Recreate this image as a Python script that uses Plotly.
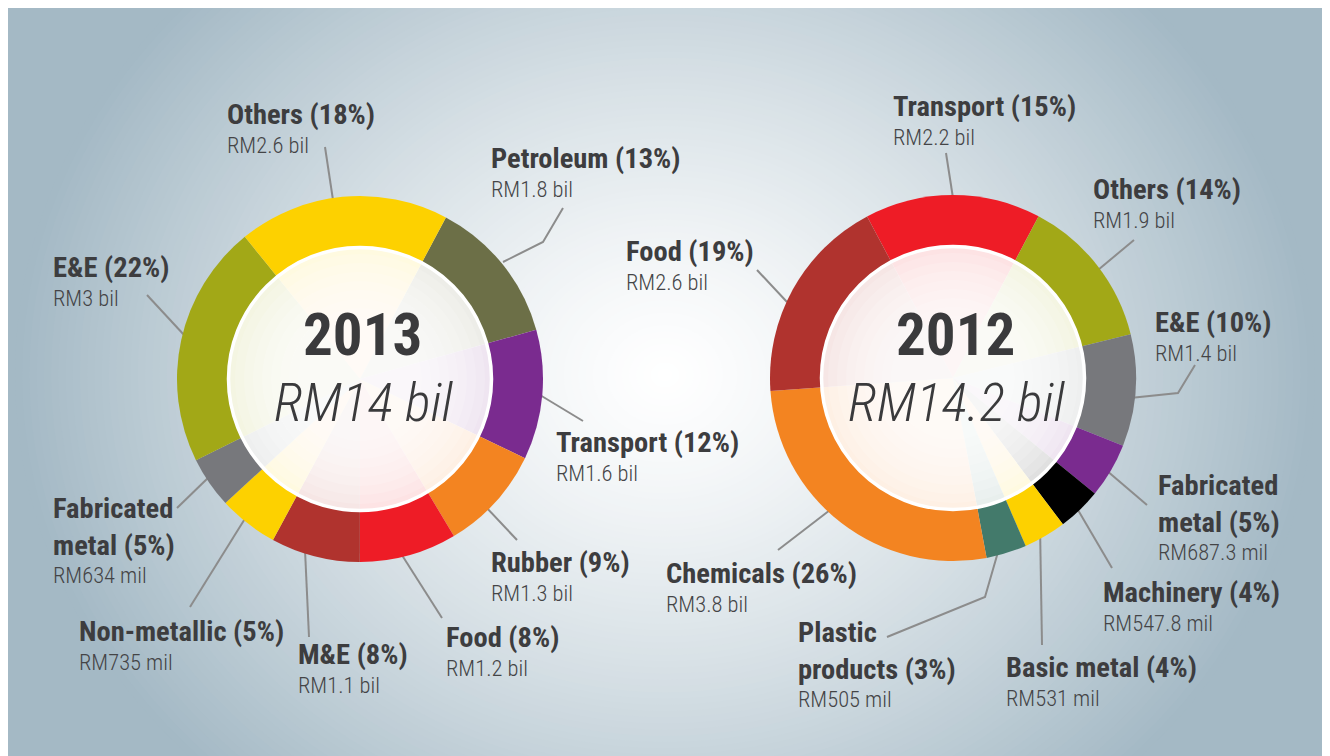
import plotly.graph_objects as go

W, H = 1330, 756

# ---------------- data ----------------
sectors_2013 = ["Petroleum", "Transport", "Rubber", "Food", "M&E",
                "Non-metallic", "Fabricated metal", "E&E", "Others"]
values_2013 = [1.8, 1.6, 1.3, 1.2, 1.1, 0.735, 0.634, 3.0, 2.6]          # RM bil
pct_2013 = [13, 12, 9, 8, 8, 5, 5, 22, 18]
amounts_2013 = ["RM1.8 bil", "RM1.6 bil", "RM1.3 bil", "RM1.2 bil", "RM1.1 bil",
                "RM735 mil", "RM634 mil", "RM3 bil", "RM2.6 bil"]
year_2013 = "2013"
total_2013 = "RM14 bil"

sectors_2012 = ["Transport", "Others", "E&E", "Fabricated metal", "Machinery",
                "Basic metal", "Plastic products", "Chemicals", "Food"]
values_2012 = [2.2, 1.9, 1.4, 0.6873, 0.5478, 0.531, 0.505, 3.8, 2.6]   # RM bil
pct_2012 = [15, 14, 10, 5, 4, 4, 3, 26, 19]
amounts_2012 = ["RM2.2 bil", "RM1.9 bil", "RM1.4 bil", "RM687.3 mil", "RM547.8 mil",
                "RM531 mil", "RM505 mil", "RM3.8 bil", "RM2.6 bil"]
year_2012 = "2012"
total_2012 = "RM14.2 bil"

# ---------------- style ----------------
YELLOW, OLIVE, DKOLIVE = "#fdd100", "#a2a817", "#6c6f47"
PURPLE, ORANGE, RED, DKRED = "#7a2b8f", "#f38421", "#ee1c26", "#b0332e"
GREY, BLACK, TEAL = "#77787c", "#000000", "#437a6b"
colors_2013 = [DKOLIVE, PURPLE, ORANGE, RED, DKRED, YELLOW, GREY, OLIVE, YELLOW]
colors_2012 = [RED, OLIVE, GREY, PURPLE, BLACK, YELLOW, TEAL, ORANGE, DKRED]

FONT = "Roboto Condensed, Liberation Sans Narrow, Roboto, sans-serif"
TXT_BOLD = "#3d3d3f"
TXT_REG = "#444446"
LEADER = "#8c8c8c"
BOLD_SIZE, REG_SIZE = 28.5, 22.5
YEAR_SIZE, TOTAL_SIZE = 59, 54
BOLD_GAP, VAL_GAP = 36, 33
ASC = 0.22  # box-top to cap-top, in em

wrap = {"Fabricated metal": "Fabricated<br>metal", "Plastic products": "Plastic<br>products"}

# all positions below are in screen pixels of the reference picture
OX, OY = 8, 8  # page margin in front of the figure
centers = {"2013": (360, 379), "2012": (953, 378)}
R_OUT = 183
rotation = {"2013": 28, "2012": -28}

pos_2013 = {"Petroleum": (490, 147), "Transport": (555, 431), "Rubber": (490, 551),
            "Food": (445, 626), "M&E": (297, 643), "Non-metallic": (78, 620),
            "Fabricated metal": (52, 497), "E&E": (52, 256), "Others": (226, 103)}
pos_2012 = {"Transport": (892, 95), "Others": (1092, 178), "E&E": (1154, 311),
            "Fabricated metal": (1157, 474), "Machinery": (1102, 581),
            "Basic metal": (1005, 656), "Plastic products": (797, 621),
            "Chemicals": (665, 562), "Food": (625, 240)}

leaders_2013 = {"Petroleum": [(563, 208), (543, 242), (503, 262)],
                "Transport": [(583, 421), (535, 392)],
                "Rubber": [(517, 540), (485, 506)],
                "Food": [(442, 618), (400, 552)],
                "M&E": [(309, 637), (305, 550)],
                "Non-metallic": [(190, 607), (246, 517)],
                "Fabricated metal": [(177, 508), (210, 476)],
                "E&E": [(147, 295), (185, 336)],
                "Others": [(325, 147), (333, 200)]}
leaders_2012 = {"Transport": [(946, 153), (953, 198)],
                "Others": [(1134, 240), (1098, 270)],
                "E&E": [(1195, 365), (1178, 393), (1130, 398)],
                "Fabricated metal": [(1147, 505), (1106, 470)],
                "Machinery": [(1112, 568), (1078, 510)],
                "Basic metal": [(1042, 645), (1040, 525)],
                "Plastic products": [(887, 637), (985, 597), (998, 552)],
                "Chemicals": [(778, 550), (830, 510)],
                "Food": [(757, 270), (787, 302)]}


def fx(x):
    return (x - OX) / W


def fy(y):
    return 1 - (y - OY) / H


fig = go.Figure()
shapes = []
annotations = []

# ----- background: radial gradient built from concentric ellipses -----
EDGE = (164, 185, 197)
shapes.append(dict(type="rect", xref="paper", yref="paper", x0=0, x1=1, y0=0, y1=1,
                   fillcolor="rgb(%d,%d,%d)" % EDGE, line=dict(width=0), layer="below"))
gcx, gcy, ga, gb = 665, 375, 650, 560
N = 90
for i in range(N):
    t = 1.0 - i / N
    blue = min(1.0, t ** 1.3)
    c = tuple(int(round(255 + (e - 255) * blue)) for e in EDGE)
    shapes.append(dict(type="circle", xref="paper", yref="paper",
                       x0=fx(gcx - ga * t), x1=fx(gcx + ga * t),
                       y0=fy(gcy + gb * t), y1=fy(gcy - gb * t),
                       fillcolor="rgb(%d,%d,%d)" % c, line=dict(width=0), layer="below"))

# glassy centre: base veil + soft layers that whiten towards the middle
veil = [(131.5, 0.88)] + [(125 - 9 * k, 0.16) for k in range(8)]


def add_donut(year, sectors, values, pcts, amounts, colors, pos, leaders, total):
    cx, cy = centers[year]
    fig.add_trace(go.Pie(
        labels=sectors, values=values, sort=False, direction="clockwise",
        rotation=rotation[year], hole=0, textinfo="none", hoverinfo="label+value",
        marker=dict(colors=colors, line=dict(width=0)), showlegend=False,
        domain=dict(x=[fx(cx - R_OUT), fx(cx + R_OUT)], y=[fy(cy + R_OUT), fy(cy - R_OUT)]),
    ))
    for j, (r, alpha) in enumerate(veil):
        shapes.append(dict(type="circle", xref="paper", yref="paper",
                           x0=fx(cx - r), x1=fx(cx + r), y0=fy(cy + r), y1=fy(cy - r),
                           fillcolor="rgba(255,255,255,%.2f)" % alpha,
                           line=dict(width=3.5, color="white") if j == 0 else dict(width=0),
                           layer="above"))
    # centre texts
    annotations.append(dict(xref="paper", yref="paper", x=fx(cx + 2),
                            y=fy(312 - ASC * YEAR_SIZE - 1),
                            xanchor="center", yanchor="top", showarrow=False,
                            text="<b>%s</b>" % year,
                            font=dict(family=FONT, size=YEAR_SIZE, color="#3a3a3c")))
    annotations.append(dict(xref="paper", yref="paper", x=fx(cx + 3),
                            y=fy(382 - ASC * TOTAL_SIZE - 1),
                            xanchor="center", yanchor="top", showarrow=False,
                            text="<i>%s</i>" % total,
                            font=dict(family=FONT, size=TOTAL_SIZE, color="#3a3a3c", weight=300)))
    # labels and leaders
    for s, p, a in zip(sectors, pcts, amounts):
        x, top = pos[s]
        name = wrap.get(s, s)
        nlines = name.count("<br>") + 1
        annotations.append(dict(xref="paper", yref="paper", x=fx(x - 1),
                                y=fy(top - ASC * BOLD_SIZE - 1),
                                xanchor="left", yanchor="top", align="left", showarrow=False,
                                text="<b>%s (%d%%)</b>" % (name.replace("<br>", "</b><br><b>"), p),
                                font=dict(family=FONT, size=BOLD_SIZE, color=TXT_BOLD)))
        vtop = top + (nlines - 1) * BOLD_GAP + VAL_GAP
        annotations.append(dict(xref="paper", yref="paper", x=fx(x - 1),
                                y=fy(vtop - ASC * REG_SIZE - 1),
                                xanchor="left", yanchor="top", align="left", showarrow=False,
                                text=a, font=dict(family=FONT, size=REG_SIZE, color=TXT_REG,
                                                  weight=300)))
        pts = leaders[s]
        path = "M %f %f " % (fx(pts[0][0]), fy(pts[0][1])) + " ".join(
            "L %f %f" % (fx(px), fy(py)) for px, py in pts[1:])
        shapes.append(dict(type="path", xref="paper", yref="paper", path=path,
                           line=dict(color=LEADER, width=2), layer="below"))


add_donut("2013", sectors_2013, values_2013, pct_2013, amounts_2013, colors_2013,
          pos_2013, leaders_2013, total_2013)
add_donut("2012", sectors_2012, values_2012, pct_2012, amounts_2012, colors_2012,
          pos_2012, leaders_2012, total_2012)

fig.update_layout(
    width=W, height=H, margin=dict(l=0, r=0, t=0, b=0),
    paper_bgcolor="white", plot_bgcolor="white",
    shapes=shapes, annotations=annotations, showlegend=False,
)
fig.write_html("out.html")
